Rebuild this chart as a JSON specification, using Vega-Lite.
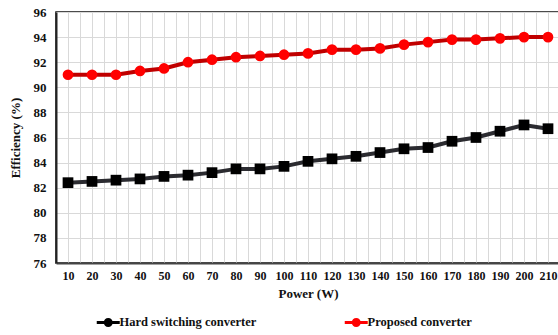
{
  "$schema": "https://vega.github.io/schema/vega-lite/v6.json",
  "autosize": "none",
  "width": 504,
  "height": 251,
  "padding": {"left": 56, "top": 12, "right": 0, "bottom": 72},
  "background": "white",
  "config": {
    "view": {"stroke": "#111111", "strokeWidth": 1.5},
    "font": "Liberation Serif"
  },
  "data": {
    "values": [
      {"power": 10, "eff": 82.4, "series": "Hard switching converter"},
      {"power": 20, "eff": 82.5, "series": "Hard switching converter"},
      {"power": 30, "eff": 82.6, "series": "Hard switching converter"},
      {"power": 40, "eff": 82.7, "series": "Hard switching converter"},
      {"power": 50, "eff": 82.9, "series": "Hard switching converter"},
      {"power": 60, "eff": 83.0, "series": "Hard switching converter"},
      {"power": 70, "eff": 83.2, "series": "Hard switching converter"},
      {"power": 80, "eff": 83.5, "series": "Hard switching converter"},
      {"power": 90, "eff": 83.5, "series": "Hard switching converter"},
      {"power": 100, "eff": 83.7, "series": "Hard switching converter"},
      {"power": 110, "eff": 84.1, "series": "Hard switching converter"},
      {"power": 120, "eff": 84.3, "series": "Hard switching converter"},
      {"power": 130, "eff": 84.5, "series": "Hard switching converter"},
      {"power": 140, "eff": 84.8, "series": "Hard switching converter"},
      {"power": 150, "eff": 85.1, "series": "Hard switching converter"},
      {"power": 160, "eff": 85.2, "series": "Hard switching converter"},
      {"power": 170, "eff": 85.7, "series": "Hard switching converter"},
      {"power": 180, "eff": 86.0, "series": "Hard switching converter"},
      {"power": 190, "eff": 86.5, "series": "Hard switching converter"},
      {"power": 200, "eff": 87.0, "series": "Hard switching converter"},
      {"power": 210, "eff": 86.7, "series": "Hard switching converter"},
      {"power": 10, "eff": 91.0, "series": "Proposed converter"},
      {"power": 20, "eff": 91.0, "series": "Proposed converter"},
      {"power": 30, "eff": 91.0, "series": "Proposed converter"},
      {"power": 40, "eff": 91.3, "series": "Proposed converter"},
      {"power": 50, "eff": 91.5, "series": "Proposed converter"},
      {"power": 60, "eff": 92.0, "series": "Proposed converter"},
      {"power": 70, "eff": 92.2, "series": "Proposed converter"},
      {"power": 80, "eff": 92.4, "series": "Proposed converter"},
      {"power": 90, "eff": 92.5, "series": "Proposed converter"},
      {"power": 100, "eff": 92.6, "series": "Proposed converter"},
      {"power": 110, "eff": 92.7, "series": "Proposed converter"},
      {"power": 120, "eff": 93.0, "series": "Proposed converter"},
      {"power": 130, "eff": 93.0, "series": "Proposed converter"},
      {"power": 140, "eff": 93.1, "series": "Proposed converter"},
      {"power": 150, "eff": 93.4, "series": "Proposed converter"},
      {"power": 160, "eff": 93.6, "series": "Proposed converter"},
      {"power": 170, "eff": 93.8, "series": "Proposed converter"},
      {"power": 180, "eff": 93.8, "series": "Proposed converter"},
      {"power": 190, "eff": 93.9, "series": "Proposed converter"},
      {"power": 200, "eff": 94.0, "series": "Proposed converter"},
      {"power": 210, "eff": 94.0, "series": "Proposed converter"}
    ]
  },
  "encoding": {
    "x": {
      "field": "power",
      "type": "quantitative",
      "scale": {"domain": [5, 215], "nice": false, "zero": false},
      "axis": {
        "title": "Power (W)",
        "values": [5, 10, 15, 20, 25, 30, 35, 40, 45, 50, 55, 60, 65, 70, 75, 80, 85, 90, 95, 100, 105, 110, 115, 120, 125, 130, 135, 140, 145, 150, 155, 160, 165, 170, 175, 180, 185, 190, 195, 200, 205, 210, 215],
        "labelExpr": "(datum.value % 10 == 0 && datum.value >= 10 && datum.value <= 210) ? datum.value : ''",
        "ticks": false,
        "grid": true,
        "gridColor": "#d9d9d9",
        "gridWidth": 1,
        "domainColor": "#444444",
        "domainWidth": 2,
        "labelFont": "Liberation Serif",
        "labelFontWeight": "bold",
        "labelFontSize": 12,
        "labelColor": "#111111",
        "labelPadding": 7,
        "labelFlush": false,
        "labelOverlap": false,
        "titleFont": "Liberation Serif",
        "titleFontWeight": "bold",
        "titleFontSize": 13,
        "titleColor": "#111111",
        "titlePadding": 6
      }
    },
    "y": {
      "field": "eff",
      "type": "quantitative",
      "scale": {"domain": [76, 96], "nice": false, "zero": false},
      "axis": {
        "title": "Efficiency (%)",
        "values": [76, 78, 80, 82, 84, 86, 88, 90, 92, 94, 96],
        "ticks": false,
        "grid": true,
        "gridColor": "#d9d9d9",
        "gridWidth": 1,
        "domainColor": "#222222",
        "domainWidth": 2,
        "labelFont": "Liberation Serif",
        "labelFontWeight": "bold",
        "labelFontSize": 13,
        "labelColor": "#111111",
        "labelPadding": 10,
        "labelFlush": false,
        "titleFont": "Liberation Serif",
        "titleFontWeight": "bold",
        "titleFontSize": 13,
        "titleColor": "#111111",
        "titlePadding": 11
      }
    }
  },
  "layer": [
    {
      "mark": {"type": "line", "strokeWidth": 4},
      "encoding": {
        "color": {
          "field": "series",
          "type": "nominal",
          "scale": {"domain": ["Hard switching converter", "Proposed converter"], "range": ["#2b2b30", "#c00000"]},
          "legend": null
        }
      }
    },
    {
      "mark": {"type": "point", "filled": true, "opacity": 1},
      "encoding": {
        "color": {
          "field": "series",
          "type": "nominal",
          "scale": {"domain": ["Hard switching converter", "Proposed converter"], "range": ["#000000", "#ff0000"]},
          "legend": {
            "title": null,
            "orient": "none",
            "direction": "horizontal",
            "legendX": 46,
            "legendY": 304,
            "symbolType": "M-2.3,-0.3 L2.3,-0.3 L2.3,0.3 L-2.3,0.3 Z M-0.9,0 A0.9,0.9 0 1,1 0.9,0 A0.9,0.9 0 1,1 -0.9,0 Z",
            "symbolSize": 100,
            "symbolStrokeWidth": 0,
            "symbolOpacity": 1,
            "labelOffset": 5,
            "columnPadding": 87,
            "labelFont": "Liberation Serif",
            "labelFontWeight": "bold",
            "labelFontSize": 12.5,
            "labelColor": "#111111",
            "labelLimit": 300
          }
        },
        "shape": {
          "field": "series",
          "type": "nominal",
          "scale": {"domain": ["Hard switching converter", "Proposed converter"], "range": ["square", "circle"]},
          "legend": null
        },
        "size": {"value": 115}
      }
    }
  ],
  "resolve": {"scale": {"color": "independent"}}
}
